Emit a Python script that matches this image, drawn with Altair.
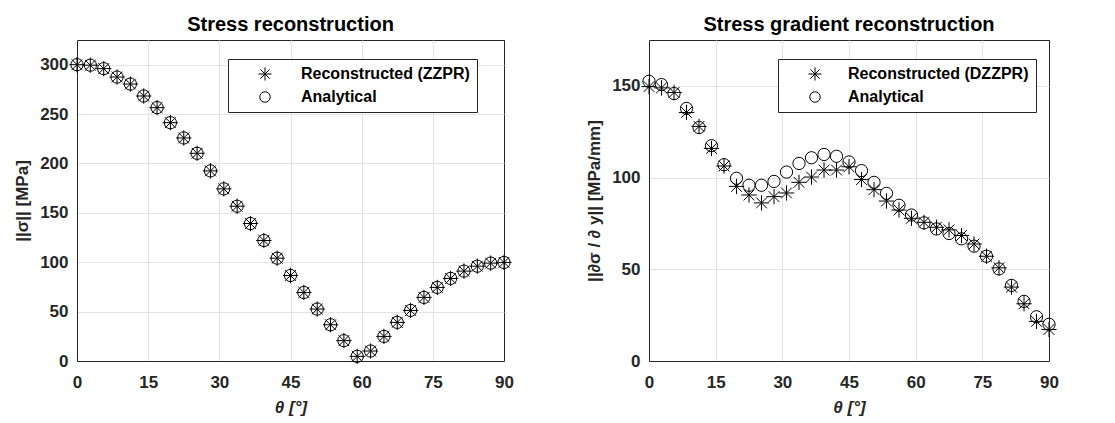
import altair as alt
import pandas as pd

theta = [0.0, 2.81, 5.63, 8.44, 11.25, 14.06, 16.88, 19.69, 22.5, 25.31, 28.13,
         30.94, 33.75, 36.56, 39.38, 42.19, 45.0, 47.81, 50.63, 53.44, 56.25,
         59.06, 61.88, 64.69, 67.5, 70.31, 73.13, 75.94, 78.75, 81.56, 84.38,
         87.19, 90.0]

stress_zzpr = [300.0, 299.5, 296.0, 287.5, 280.4, 268.3, 256.5, 241.3, 225.8,
               210.3, 192.5, 174.3, 156.7, 139.2, 122.0, 104.1, 86.6, 69.4,
               52.6, 36.7, 20.6, 4.7, 10.1, 24.9, 39.1, 51.2, 64.4, 74.5,
               83.6, 91.0, 96.0, 99.1, 99.8]
stress_analytical = [300.0, 299.5, 296.0, 287.5, 280.4, 268.3, 256.5, 241.3,
                     225.8, 210.3, 192.5, 174.3, 156.7, 139.2, 122.0, 104.1,
                     86.6, 69.4, 52.6, 36.7, 20.6, 4.7, 10.1, 24.9, 39.1, 51.2,
                     64.4, 74.5, 83.6, 91.0, 96.0, 99.1, 99.8]

grad_dzzpr = [149.6, 148.9, 146.4, 135.5, 127.9, 115.9, 106.3, 95.2, 90.5,
              86.2, 89.6, 91.6, 97.4, 100.3, 104.1, 104.1, 105.9, 98.9, 93.4,
              87.2, 82.3, 77.8, 75.6, 72.9, 71.5, 68.4, 63.8, 57.1, 50.8,
              40.3, 31.2, 21.6, 17.2]
grad_analytical = [152.5, 150.7, 145.8, 137.7, 127.3, 117.4, 107.0, 99.6, 95.8,
                   95.8, 97.9, 103.0, 107.7, 110.8, 112.6, 111.6, 108.5, 103.8,
                   97.4, 91.4, 84.9, 79.6, 75.3, 72.0, 69.5, 66.6, 62.6, 57.1,
                   50.2, 41.2, 32.5, 24.1, 20.0]

x_ticks = [0, 15, 30, 45, 60, 75, 90]

ASTERISK = "M-1.25,0L1.25,0M0,-1.25L0,1.25M-0.88,-0.88L0.88,0.88M-0.88,0.88L0.88,-0.88"
FONT = "Liberation Sans"
TXT = "#262626"
GRID = "#e3e3e3"


def long_df(a_name, a_vals, b_name, b_vals):
    rows = []
    for t, v in zip(theta, a_vals):
        rows.append({"theta": t, "value": v, "series": a_name})
    for t, v in zip(theta, b_vals):
        rows.append({"theta": t, "value": v, "series": b_name})
    return pd.DataFrame(rows)


def panel(df, rec_name, ymax, yticks, ytitle, ptitle, width, legend_x, label_offset):
    order = [rec_name, "Analytical"]
    return alt.Chart(df, title=alt.TitleParams(
        ptitle, font=FONT, fontSize=20, fontWeight="bold", color="black",
        anchor="middle", offset=5)).mark_point(
        filled=False, strokeWidth=1.0, opacity=1, size=150
    ).encode(
        x=alt.X("theta:Q", scale=alt.Scale(domain=[0, 90], nice=False),
                axis=alt.Axis(values=x_ticks, title="θ [°]", titleFontStyle="italic",
                              gridColor=alt.condition("datum.value == 90",
                                                      alt.value(TXT), alt.value(GRID)))),
        y=alt.Y("value:Q", scale=alt.Scale(domain=[0, ymax], nice=False),
                axis=alt.Axis(values=yticks, title=ytitle)),
        color=alt.Color("series:N", scale=alt.Scale(domain=order, range=["black", "black"]),
                        legend=alt.Legend(
                            title=None, orient="none", legendX=legend_x, legendY=19,
                            strokeColor=TXT, fillColor="white", padding=7,
                            symbolOffset=22, labelOffset=label_offset, rowPadding=6,
                            labelFont=FONT, labelFontSize=16, labelFontWeight="bold",
                            labelColor="black", symbolSize=110, symbolStrokeWidth=1.0,
                            labelLimit=400)),
        shape=alt.Shape("series:N", scale=alt.Scale(domain=order, range=[ASTERISK, "circle"])),
        order=alt.Order("series:N", sort="ascending"),
    ).properties(width=width, height=321)


left = panel(long_df("Reconstructed (ZZPR)", stress_zzpr, "Analytical", stress_analytical),
             "Reconstructed (ZZPR)", 325, [0, 50, 100, 150, 200, 250, 300],
             "||σ|| [MPa]", "Stress reconstruction", 427, 151, 28)
right = panel(long_df("Reconstructed (DZZPR)", grad_dzzpr, "Analytical", grad_analytical),
              "Reconstructed (DZZPR)", 175, [0, 50, 100, 150],
              "||∂σ / ∂ y|| [MPa/mm]", "Stress gradient reconstruction", 400, 129, 25)

chart = alt.hconcat(left, right, spacing=145, bounds="flush").resolve_scale(
    color="independent", shape="independent"
).configure_view(stroke=TXT, strokeWidth=1).configure_axis(
    labelFont=FONT, labelFontSize=17, labelFontWeight="bold", labelColor=TXT,
    titleFont=FONT, titleFontSize=17, titleFontWeight="bold", titleColor=TXT,
    ticks=False, labelPadding=9, titlePadding=8, domain=True, domainColor=TXT,
    domainWidth=1, gridColor=GRID, gridWidth=1, labelFlush=False
).configure_axisX(labelPadding=13, titlePadding=9).properties(
    padding={"left": 13, "top": 14, "right": 5, "bottom": 5}, background="white"
)

chart.save("out.html", embed_options={"renderer": "svg", "actions": False})
